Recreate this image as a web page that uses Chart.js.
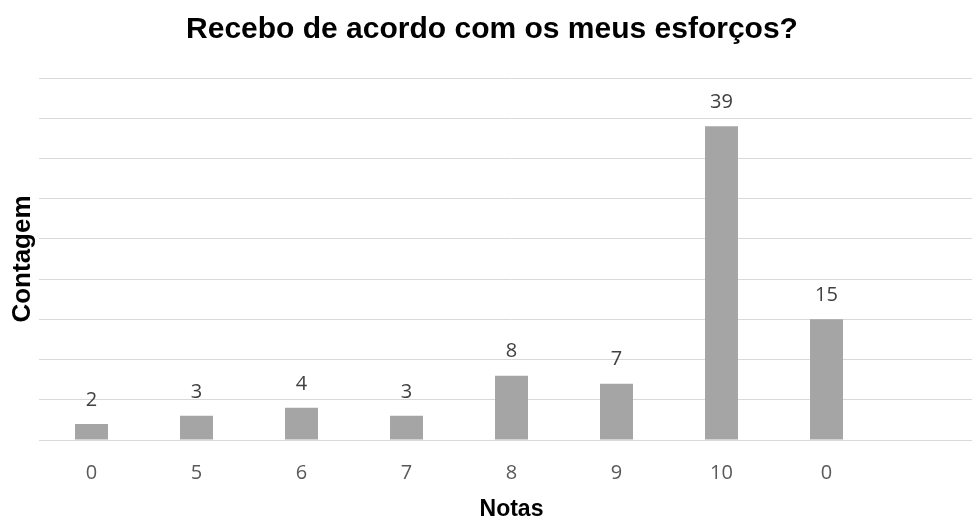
<!DOCTYPE html>
<html>
<head>
<meta charset="utf-8">
<script src="https://cdn.jsdelivr.net/npm/chart.js@4"></script>
<style>
html, body { margin: 0; padding: 0; overflow: hidden; background: #fff; }
#wrap { width: 984px; height: 518px; position: relative; }
</style>
</head>
<body>
<div id="wrap"><canvas id="c"></canvas></div>
<script>
const categories = ["0", "5", "6", "7", "8", "9", "10", "0", ""];
const counts = [2, 3, 4, 3, 8, 7, 39, 15, null];
const chartTitle = "Recebo de acordo com os meus esforços?";
const xTitle = "Notas";
const yTitle = "Contagem";
const yMin = 0, yMax = 45, yStep = 5;

const valueLabels = {
  id: 'valueLabels',
  afterDatasetsDraw(chart) {
    const ctx = chart.ctx;
    ctx.save();
    ctx.font = '20px "Open Sans"';
    ctx.fillStyle = '#404040';
    ctx.textAlign = 'center';
    ctx.textBaseline = 'middle';
    chart.getDatasetMeta(0).data.forEach((bar, i) => {
      const v = counts[i];
      if (v === null || v === undefined) return;
      ctx.fillText(String(v), bar.x, bar.y - 24);
    });
    ctx.restore();
  }
};

new Chart(document.getElementById('c'), {
  type: 'bar',
  data: {
    labels: categories,
    datasets: [{
      data: counts,
      backgroundColor: '#a5a5a5',
      borderWidth: 0,
      barPercentage: 0.314,
      categoryPercentage: 1
    }]
  },
  options: {
    responsive: true,
    maintainAspectRatio: false,
    animation: false,
    layout: { padding: { left: 0, right: 0, top: 0, bottom: 1.6 } },
    plugins: {
      legend: { display: false },
      tooltip: { enabled: false },
      title: {
        display: true,
        text: chartTitle,
        color: '#000',
        font: { family: '"Liberation Sans", Arial, sans-serif', size: 30, weight: 'bold', lineHeight: 1.2 },
        padding: { top: 12, bottom: 30 }
      }
    },
    scales: {
      x: {
        grid: { display: false, drawTicks: false },
        border: { display: true, color: '#d9d9d9' },
        ticks: {
          color: '#595959',
          font: { family: '"Open Sans", sans-serif', size: 20, lineHeight: 1.2 },
          padding: 21,
          maxRotation: 0,
          autoSkip: false
        },
        title: {
          display: true,
          text: xTitle,
          color: '#000',
          font: { family: '"Liberation Sans", Arial, sans-serif', size: 23, weight: 'bold', lineHeight: 0.1 },
          padding: { top: 2.35, bottom: 5.75 }
        }
      },
      y: {
        min: yMin,
        max: yMax,
        grid: { color: '#d9d9d9', lineWidth: 1, drawTicks: false },
        border: { display: false },
        ticks: { display: false, stepSize: yStep },
        title: {
          display: true,
          text: yTitle,
          color: '#000',
          font: { family: '"Liberation Sans", Arial, sans-serif', size: 26, weight: 'bold', lineHeight: 1.2 },
          padding: { top: 6.9, bottom: 0.9 }
        }
      }
    }
  },
  plugins: [valueLabels]
});
</script>
</body>
</html>
